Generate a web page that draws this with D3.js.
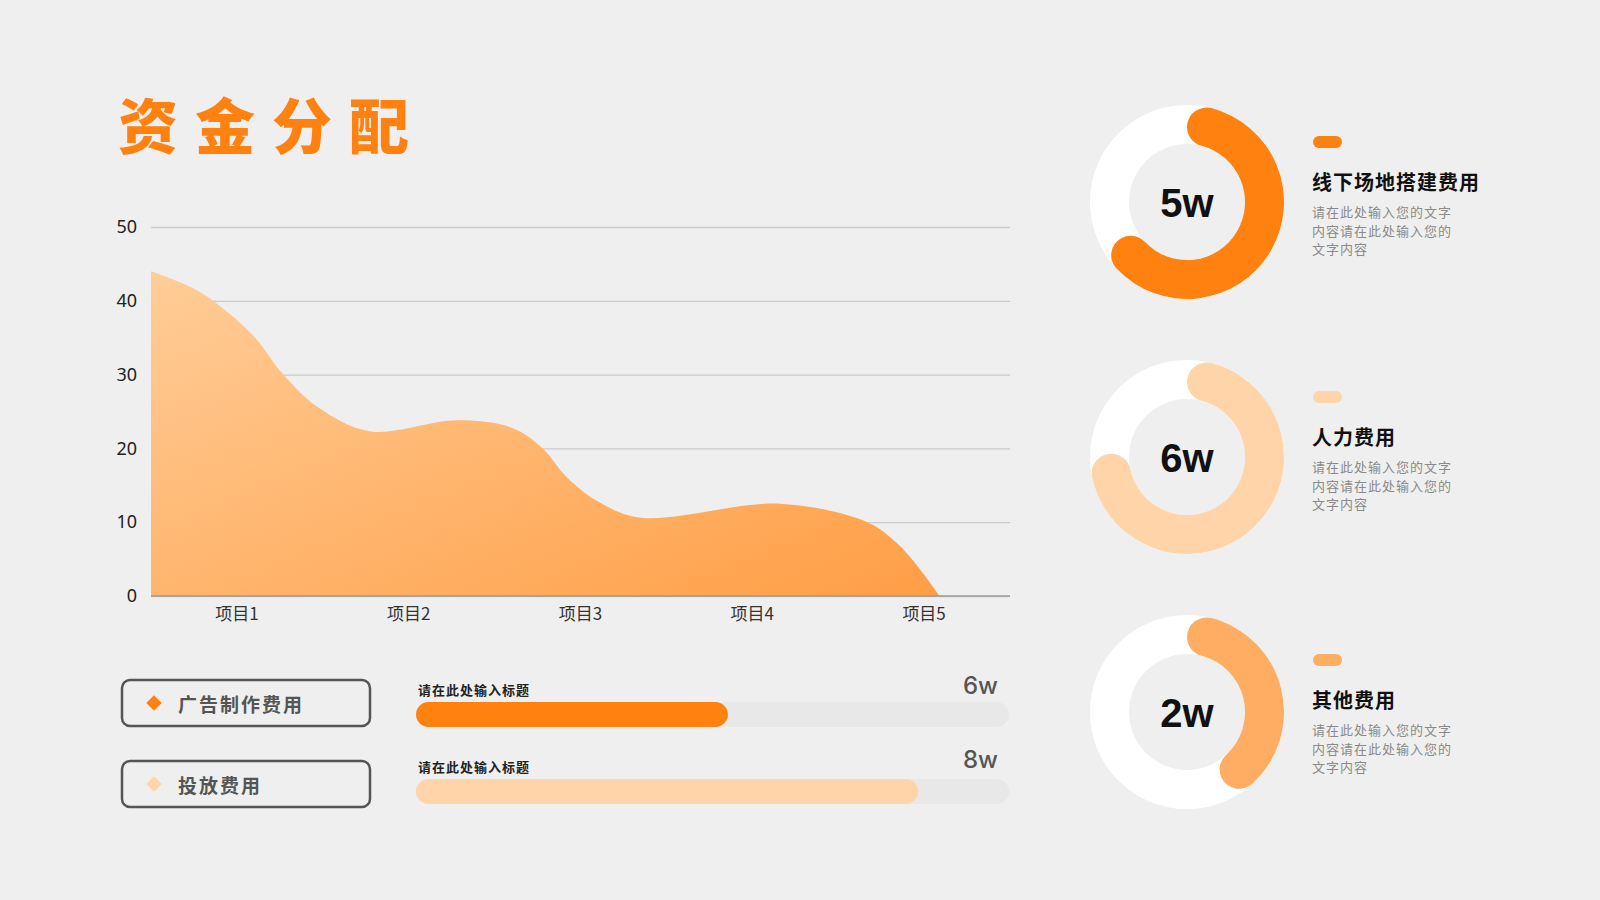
<!DOCTYPE html>
<html>
<head>
<meta charset="utf-8">
<script src="https://cdn.jsdelivr.net/npm/d3@7"></script>
<style>
  html, body { margin: 0; padding: 0; background: #efefef; }
  svg { display: block; }
</style>
</head>
<body>
<svg id="chart" width="1600" height="900"></svg>
<script>
// ---- data ----
const categories = ["项目1", "项目2", "项目3", "项目4", "项目5"];
const yTicks = [0, 10, 20, 30, 40, 50];
// area outline, sampled along the category axis (index units)
const curveIdx = [-0.5, -0.215, 0.09, 0.27, 0.47, 0.775, 1.28, 1.6, 1.78, 1.92, 2.11, 2.35, 3.16, 3.67, 3.84, 3.98, 4.09];
const curveVal = [44, 41.2, 35.4, 30, 25.6, 22.3, 23.8, 22.8, 20, 16.1, 12.7, 10.6, 12.5, 10, 7.2, 3.5, 0];

const legendNames = ["广告制作费用", "投放费用"];
const barTitles = ["请在此处输入标题", "请在此处输入标题"];
const barLabels = ["6w", "8w"];
const barShares = [0.526, 0.847];

const donutLabels = ["5w", "6w", "2w"];
const donutShares = [0.67, 0.757, 0.423];
const donutNames = ["线下场地搭建费用", "人力费用", "其他费用"];
const donutDesc = ["请在此处输入您的文字", "内容请在此处输入您的", "文字内容"];

// ---- styles ----
const ORANGE = "#ff8210";
const LIGHT = "#ffd4a9";
const MID = "#ffad62";
const CJK = "'Noto Sans CJK SC', 'Noto Sans', sans-serif";

const svg = d3.select("#chart");

svg.append("text")
  .attr("x", 118).attr("y", 149)
  .attr("font-family", CJK).attr("font-weight", 900)
  .attr("font-size", 60).attr("letter-spacing", 17)
  .attr("fill", ORANGE)
  .text("资金分配");

// ---- area chart ----
const x = d3.scaleLinear().domain([-0.5, 4.5]).range([151, 1010]);
const y = d3.scaleLinear().domain([0, 50]).range([596, 227]);

const defs = svg.append("defs");
const grad = defs.append("linearGradient").attr("id", "areaGrad")
  .attr("x1", 0).attr("y1", 0).attr("x2", 1).attr("y2", 1);
grad.append("stop").attr("offset", "0%").attr("stop-color", "#ffcd98");
grad.append("stop").attr("offset", "100%").attr("stop-color", "#ff9e45");

const gridG = svg.append("g")
  .attr("transform", `translate(${x.range()[0]},0)`)
  .call(d3.axisLeft(y).tickValues(yTicks)
    .tickSize(-(x.range()[1] - x.range()[0])).tickPadding(14));
gridG.select(".domain").remove();
gridG.selectAll(".tick line").attr("stroke", "#cbcbcb").attr("stroke-width", 1.3);
gridG.selectAll(".tick text")
  .attr("font-family", "'Noto Sans', sans-serif").attr("font-size", 18)
  .attr("fill", "#222");

const pts = curveIdx.map((d, i) => ({ i: d, v: curveVal[i] }));
const area = d3.area()
  .x(d => x(d.i)).y0(y(0)).y1(d => y(d.v))
  .curve(d3.curveCatmullRom.alpha(0.5));
svg.append("path").datum(pts)
  .attr("d", area).attr("fill", "url(#areaGrad)");

svg.append("line")
  .attr("x1", x.range()[0]).attr("x2", x.range()[1])
  .attr("y1", y(0)).attr("y2", y(0))
  .attr("stroke", "#9a9a9a").attr("stroke-width", 1.5);

svg.append("g").selectAll("text").data(categories).join("text")
  .attr("x", (d, i) => x(i)).attr("y", 620)
  .attr("text-anchor", "middle")
  .attr("font-family", CJK).attr("font-size", 17).attr("fill", "#333")
  .text(d => d);

// ---- legend boxes ----
const legendColors = [ORANGE, LIGHT];
const legG = svg.append("g").selectAll("g").data(legendNames).join("g")
  .attr("transform", (d, i) => `translate(122,${680 + i * 81})`);
legG.append("rect")
  .attr("width", 248).attr("height", 46).attr("rx", 8)
  .attr("fill", "none").attr("stroke", "#555").attr("stroke-width", 2.5);
legG.append("rect")
  .attr("x", -5.5).attr("y", -5.5).attr("width", 11).attr("height", 11)
  .attr("transform", "translate(32,23) rotate(45)")
  .attr("fill", (d, i) => legendColors[i]);
legG.append("text")
  .attr("x", 56).attr("y", 32)
  .attr("font-family", CJK).attr("font-weight", 700)
  .attr("font-size", 19).attr("letter-spacing", 2).attr("fill", "#555")
  .text(d => d);

// ---- progress bars ----
const bx = d3.scaleLinear().domain([0, 1]).range([416, 1009]);
const barH = 25;
const barG = svg.append("g").selectAll("g").data(barShares).join("g")
  .attr("transform", (d, i) => `translate(0,${702 + i * 77})`);
barG.append("rect")
  .attr("x", bx(0)).attr("width", bx(1) - bx(0)).attr("height", barH)
  .attr("rx", barH / 2).attr("fill", "#e8e8e8");
barG.append("rect")
  .attr("x", bx(0)).attr("width", d => bx(d) - bx(0)).attr("height", barH)
  .attr("rx", barH / 2).attr("fill", (d, i) => legendColors[i]);
barG.append("text")
  .attr("x", 418).attr("y", -7)
  .attr("font-family", CJK).attr("font-weight", 700)
  .attr("font-size", 13).attr("letter-spacing", 1).attr("fill", "#222")
  .text((d, i) => barTitles[i]);
barG.append("text")
  .attr("x", 998).attr("y", (d, i) => i === 0 ? -8 : -11)
  .attr("text-anchor", "end")
  .attr("font-family", "Inter, 'Noto Sans', sans-serif").attr("font-weight", 500)
  .attr("font-size", 24).attr("fill", "#555")
  .text((d, i) => barLabels[i]);

// ---- donuts ----
const donutColors = [ORANGE, LIGHT, MID];
const centersY = [202, 457, 712];
const titleY = [190, 445, 708];
const rIn = 58, rOut = 97;
const ring = d3.arc().innerRadius(rIn).outerRadius(rOut).startAngle(0).endAngle(2 * Math.PI);
const arc = d3.arc().innerRadius(rIn).outerRadius(rOut)
  .cornerRadius((rOut - rIn) / 2).startAngle(0);

const dG = svg.append("g").selectAll("g").data(donutShares).join("g");
dG.append("path")
  .attr("transform", (d, i) => `translate(1187,${centersY[i]})`)
  .attr("d", ring()).attr("fill", "#fff");
dG.append("path")
  .attr("transform", (d, i) => `translate(1187,${centersY[i]})`)
  .attr("d", d => arc({ endAngle: d * 2 * Math.PI }))
  .attr("fill", (d, i) => donutColors[i]);
dG.append("text")
  .attr("x", 1187).attr("y", (d, i) => centersY[i] + 14.5)
  .attr("text-anchor", "middle")
  .attr("font-family", "'Liberation Sans', Arial, sans-serif").attr("font-weight", 700)
  .attr("font-size", 40).attr("fill", "#111")
  .text((d, i) => donutLabels[i]);

dG.append("rect")
  .attr("x", 1313).attr("y", (d, i) => titleY[i] - 54)
  .attr("width", 29).attr("height", 12).attr("rx", 6)
  .attr("fill", (d, i) => donutColors[i]);
dG.append("text")
  .attr("x", 1312).attr("y", (d, i) => titleY[i])
  .attr("font-family", CJK).attr("font-weight", 700)
  .attr("font-size", 20).attr("letter-spacing", 1).attr("fill", "#111")
  .text((d, i) => donutNames[i]);
dG.each(function (d, i) {
  d3.select(this).append("g").selectAll("text").data(donutDesc).join("text")
    .attr("x", 1312).attr("y", (t, j) => titleY[i] + 27 + j * 18.5)
    .attr("font-family", CJK).attr("font-size", 13)
    .attr("letter-spacing", 1).attr("fill", "#8a8a8a")
    .text(t => t);
});
</script>
</body>
</html>
